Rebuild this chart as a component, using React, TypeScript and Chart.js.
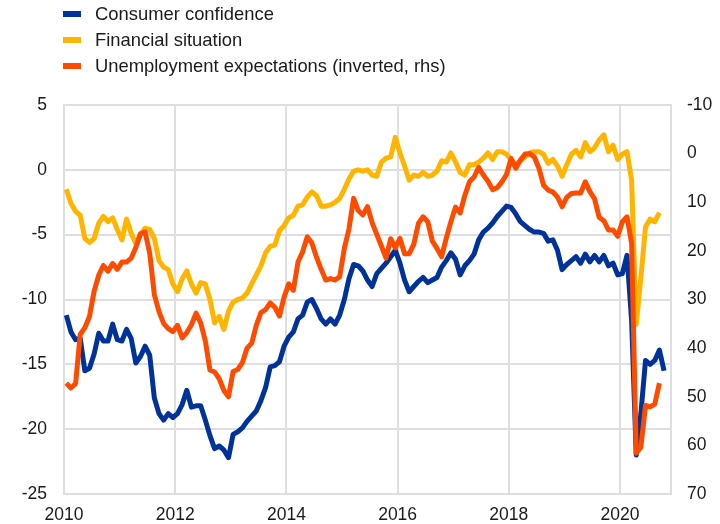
import React, { useEffect, useRef } from "react";
import { Chart, registerables } from "chart.js";

Chart.register(...registerables);

const FONT = "'Liberation Sans', Arial, Helvetica, sans-serif";

// Tick labels
const xTickYears = [2010, 2012, 2014, 2016, 2018, 2020];
const leftTicks = [-25, -20, -15, -10, -5, 0, 5];
const rightTicks = [-10, 0, 10, 20, 30, 40, 50, 60, 70];

// Series names and colours
const seriesNames = [
  "Consumer confidence",
  "Financial situation",
  "Unemployment expectations (inverted, rhs)",
];
const seriesColors = ["#003299", "#ffb400", "#ff4b00"];

// Monthly values, Jan 2010 onwards
const consumerConfidence = [
  -11.2, -12.5, -13.1, -13.0, -15.5, -15.3, -14.2, -12.6, -13.2, -13.2, -11.9, -13.1,
  -13.2, -12.3, -13.0, -14.9, -14.4, -13.6, -14.3, -17.6, -18.8, -19.3, -18.8, -19.1,
  -18.8, -18.1, -17.0, -18.3, -18.2, -18.2, -19.3, -20.5, -21.5, -21.3, -21.6, -22.2,
  -20.4, -20.2, -19.9, -19.4, -19.0, -18.6, -17.8, -16.8, -15.2, -15.1, -14.8, -13.6,
  -12.9, -12.5, -11.5, -11.2, -10.2, -10.0, -10.7, -11.5, -11.9, -11.5, -11.9, -11.2,
  -10.0, -8.4, -7.3, -7.4, -7.8, -8.5, -9.0, -8.0, -7.6, -7.2, -6.7, -6.2,
  -7.2, -8.5, -9.4, -9.0, -8.6, -8.3, -8.7, -8.5, -8.3, -7.5, -7.0, -6.4,
  -6.9, -8.1, -7.4, -7.0, -6.5, -5.4, -4.8, -4.5, -4.1, -3.6, -3.2, -2.8,
  -2.9, -3.4, -4.0, -4.3, -4.6, -4.8, -4.8, -4.9, -5.5, -5.4, -6.2, -7.7,
  -7.3, -7.0, -6.7, -7.2, -6.5, -7.1, -6.6, -7.1, -6.6, -7.4, -7.2, -8.1,
  -8.0, -6.6, -11.6, -22.0, -18.8, -14.7, -15.0, -14.7, -13.9, -15.5,
];

const financialSituation = [
  -1.5, -2.6, -3.2, -3.5, -5.3, -5.6, -5.3, -4.1, -3.6, -4.0, -3.7, -4.6,
  -5.4, -3.8, -4.9, -5.7, -5.0, -4.5, -4.6, -5.3, -7.0, -7.5, -7.7, -8.8,
  -9.4, -8.4, -7.8, -8.8, -9.5, -8.7, -8.8, -10.0, -11.8, -11.3, -12.3, -10.9,
  -10.2, -10.0, -9.9, -9.5, -8.8, -8.1, -7.4, -6.4, -5.9, -5.8, -4.7, -4.3,
  -3.7, -3.5, -2.8, -2.7, -2.1, -1.7, -2.0, -2.8, -2.8, -2.7, -2.5, -2.2,
  -1.5, -0.7, -0.1, 0.0, -0.1, 0.0, -0.4, -0.5, 0.6, 0.9, 1.0, 2.5,
  1.3, 0.3, -0.8, -0.4, -0.5, -0.2, -0.5, -0.4, -0.1, 0.7, 0.6, 1.3,
  0.6, -0.2, -0.4, 0.4, 0.4, 0.6, 0.9, 1.3, 0.8, 1.4, 1.4, 1.2,
  0.8, 0.4, 0.7, 1.0, 1.3, 1.4, 1.4, 1.2, 0.5, 0.8, 0.3, -0.5,
  0.4, 1.2, 1.5, 1.0, 2.1, 1.4, 1.7, 2.3, 2.7, 1.4, 1.9, 0.8,
  1.2, 1.4, -0.8, -11.9, -8.3, -4.4, -3.8, -4.0, -3.3,
];

const unemploymentExpectations = [
  47.2, 48.2, 47.3, 37.2, 35.8, 33.5, 28.3, 25.0, 23.0, 24.2, 22.6, 23.8,
  22.3, 22.3, 21.5, 19.3, 16.5, 16.1, 20.5, 29.0, 32.5, 34.9, 36.0, 36.6,
  35.3, 37.9, 36.8, 35.2, 32.8, 34.8, 38.5, 44.5, 44.9, 46.3, 48.7, 50.0,
  44.8, 44.4, 43.0, 40.0, 39.0, 35.3, 32.7, 32.1, 30.7, 31.6, 33.4, 29.5,
  26.8, 28.1, 22.3, 20.2, 17.1, 18.4, 21.3, 23.8, 26.0, 25.7, 26.0, 25.3,
  19.5, 15.5, 9.2, 11.7, 12.6, 10.9, 14.2, 16.6, 19.0, 21.5, 17.5, 19.4,
  17.4, 20.6, 20.6, 18.6, 14.3, 13.0, 14.0, 18.0, 19.5, 21.2, 17.4, 14.0,
  11.0, 12.2, 8.6, 5.8, 4.8, 2.8, 4.4, 5.7, 7.4, 7.0, 5.8, 4.3,
  1.0, 3.0, 1.3, 0.1, 0.0, 0.7, 3.0, 6.5, 7.5, 7.9, 8.9, 10.9,
  9.0, 8.2, 8.1, 8.1, 5.8, 7.8, 9.3, 13.1, 13.8, 15.7, 15.7, 17.0,
  14.0, 13.0, 18.4, 61.6, 60.4, 51.8, 52.1, 51.5, 47.2,
];

// Month labels "YYYY-MM" starting Jan 2010
const firstYear = 2010;
const months: string[] = [];
for (let i = 0; i < consumerConfidence.length; i++) {
  months.push(`${firstYear + Math.floor(i / 12)}-${String((i % 12) + 1).padStart(2, "0")}`);
}
// mid-month position on a decimal-year axis
const monthToX = (m: string) => {
  const [y, mo] = m.split("-").map(Number);
  return y + (mo - 0.5) / 12;
};
const toPoints = (vals: number[]) => vals.map((v, i) => ({ x: monthToX(months[i]), y: v }));

const GRID = "#dedede";
const TEXT = "#1a1a1a";

export default function App() {
  const ref = useRef<HTMLCanvasElement | null>(null);

  useEffect(() => {
    if (!ref.current) return;
    const chart = new Chart(ref.current, {
      type: "line",
      data: {
        datasets: [
          {
            label: seriesNames[0],
            data: toPoints(consumerConfidence),
            borderColor: seriesColors[0],
            backgroundColor: seriesColors[0],
            yAxisID: "y",
            order: 2,
          },
          {
            label: seriesNames[1],
            data: toPoints(financialSituation),
            borderColor: seriesColors[1],
            backgroundColor: seriesColors[1],
            yAxisID: "y",
            order: 1,
          },
          {
            label: seriesNames[2],
            data: toPoints(unemploymentExpectations),
            borderColor: seriesColors[2],
            backgroundColor: seriesColors[2],
            yAxisID: "y1",
            order: 0,
          },
        ],
      },
      options: {
        animation: false,
        responsive: false,
        maintainAspectRatio: false,
        layout: { padding: { top: 105, left: 0, right: 0, bottom: 0 } },
        elements: {
          point: { radius: 0, hoverRadius: 0 },
          line: { borderWidth: 5, tension: 0, borderJoinStyle: "round", borderCapStyle: "butt" },
        },
        plugins: {
          legend: { display: false },
          tooltip: { enabled: false },
        },
        scales: {
          x: {
            type: "linear",
            min: firstYear,
            max: firstYear + 131 / 12,
            afterBuildTicks: (s: any) => {
              s.ticks = xTickYears.map((v) => ({ value: v }));
            },
            afterFit: (s: any) => {
              s.height = 30;
            },
            grid: { color: GRID, lineWidth: 2, drawTicks: false },
            border: { display: true, color: GRID, width: 2 },
            ticks: {
              autoSkip: false,
              maxRotation: 0,
              padding: 11,
              color: TEXT,
              font: { family: FONT, size: 17.5 },
              callback: (v: any) => String(v),
            },
          },
          y: {
            position: "left",
            min: leftTicks[0],
            max: leftTicks[leftTicks.length - 1],
            afterBuildTicks: (s: any) => {
              s.ticks = leftTicks.map((v) => ({ value: v }));
            },
            afterFit: (s: any) => {
              s.width = 64;
            },
            grid: { color: GRID, lineWidth: 2, drawTicks: false },
            border: { display: true, color: GRID, width: 2 },
            ticks: {
              padding: 17,
              color: TEXT,
              font: { family: FONT, size: 17.5 },
              callback: (v: any) => String(v),
            },
          },
          y1: {
            position: "right",
            reverse: true,
            min: rightTicks[0],
            max: rightTicks[rightTicks.length - 1],
            afterBuildTicks: (s: any) => {
              s.ticks = rightTicks.map((v) => ({ value: v }));
            },
            afterFit: (s: any) => {
              s.width = 49;
            },
            grid: { display: false, drawTicks: false },
            border: { display: true, color: GRID, width: 2 },
            ticks: {
              padding: 16,
              color: TEXT,
              font: { family: FONT, size: 17.5 },
              callback: (v: any) => String(v),
            },
          },
        },
      },
    });
    return () => chart.destroy();
  }, []);

  return (
    <div style={{ position: "fixed", left: 0, top: 0, width: 720, height: 524, background: "#fff" }}>
      <canvas ref={ref} width={720} height={524} style={{ position: "absolute", left: 0, top: 0, width: 720, height: 524 }} />
      <div style={{ position: "absolute", left: 63, top: 1, fontFamily: FONT, fontSize: 18.4, color: TEXT }}>
        {seriesNames.map((name, i) => (
          <div key={name} style={{ display: "flex", alignItems: "center", height: 26, lineHeight: "26px", whiteSpace: "nowrap" }}>
            <span style={{ display: "inline-block", width: 18, height: 6, background: seriesColors[i], marginRight: 14 }} />
            <span>{name}</span>
          </div>
        ))}
      </div>
    </div>
  );
}
